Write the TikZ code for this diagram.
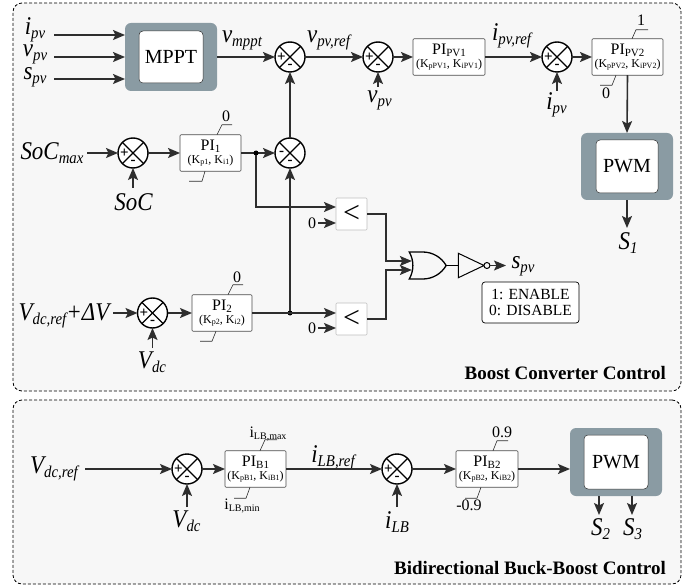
\documentclass[tikz,border=0pt]{standalone}
\usepackage{fontspec}
\setmainfont{Liberation Serif}
\newfontfamily\sigfont[FakeStretch=0.9]{Liberation Serif}
\usetikzlibrary{arrows.meta,shapes.gates.logic.US}

\definecolor{panelfill}{HTML}{F7F7F7}
\definecolor{blockgray}{HTML}{8A9BA3}
\definecolor{wire}{HTML}{2E2E2E}

\newcommand{\fsz}[1]{\fontsize{#1}{#1}\selectfont}
\newcommand{\siglbl}[2]{{\sigfont\itshape\fsz{25.5}#1\raisebox{-4pt}{\fsz{16.5}#2}}}
\newcommand{\pititle}[2]{{\fsz{16}PI\raisebox{-2pt}{\fsz{11}#1}}\\[1pt]#2}
\newcommand{\gains}[2]{\fsz{12}(K\raisebox{-1.5pt}{\fsz{8}#1}, K\raisebox{-1.5pt}{\fsz{8}#2})}
\newcommand{\limtxt}[2]{\fsz{16}#1\raisebox{-2pt}{\fsz{10}#2}}

\tikzset{
	panel/.style = {draw = black, dashed, dash pattern = on 3pt off 2pt, fill = panelfill,
					rounded corners = 9pt, line width = 0.8pt, inner sep = 0pt, outer sep = 0pt},
	paneltitle/.style = {anchor = east, inner sep = 0pt, font = \bfseries\fsz{19}},
	outerblock/.style = {fill = blockgray, rounded corners = 6pt, inner sep = 0pt, outer sep = 0pt},
	innerblock/.style = {draw = wire, fill = white, rounded corners = 4pt, line width = 0.5pt,
						 inner sep = 0pt, outer sep = 0pt, font = \fsz{20}},
	piblock/.style = {draw = black!70, fill = white, rounded corners = 1pt, line width = 0.6pt,
					  inner sep = 0pt, outer sep = 0pt, align = center, minimum height = 36.5pt},
	ltblock/.style = {draw = black!25, fill = white, rounded corners = 1pt, line width = 0.6pt,
					  inner sep = 0pt, outer sep = 0pt, minimum width = 31pt, minimum height = 32pt,
					  font = \fsz{30}},
	sumjunction/.style = {draw = black, shape = circle, line width = 1.4pt, fill = white,
						  minimum size = 30pt, inner sep = 0pt, outer sep = 0pt,
						  path picture = {
							\draw[line width = 1.2pt] (path picture bounding box.north west) -- (path picture bounding box.south east);
							\draw[line width = 1.2pt] (path picture bounding box.north east) -- (path picture bounding box.south west);
							\node[font = \bfseries\fsz{15}, inner sep = 0pt] at ([xshift = -8.5pt]path picture bounding box.center) {#1};
							\node[font = \bfseries\fsz{15}, inner sep = 0pt] at ([yshift = -9pt]path picture bounding box.center) {-};
						  }},
	junction/.style = {fill = black, shape = circle, minimum size = 5pt, inner sep = 0pt, outer sep = 0pt},
	limtext/.style = {inner sep = 0pt},
	limline/.style = {line width = 0.6pt, draw = wire},
	sig/.style = {inner sep = 0pt, anchor = base},
	conn/.style = {draw = wire, line width = 1.6pt}
}

\begin{document}
\begin{tikzpicture}[x = 1pt, y = -1pt, >={Stealth[length = 12pt, width = 10pt, inset = 2.5pt]}]

	\useasboundingbox (0,0) rectangle (692,585);

	\draw (347,197) node[panel, minimum width = 668pt, minimum height = 388pt] (BoostPanel) {};
	\draw (347,492) node[panel, minimum width = 668pt, minimum height = 184pt] (BuckPanel) {};
	\draw (666,373) node[paneltitle] (BoostTitle) {Boost Converter Control};
	\draw (666,568) node[paneltitle] (BuckTitle) {Bidirectional Buck-Boost Control};

	\draw (171,57) node[outerblock, minimum width = 92pt, minimum height = 68pt] (MPPTout) {};
	\draw (171,57) node[innerblock, minimum width = 64pt, minimum height = 52pt] (MPPT) {MPPT};
	\draw (627,166.5) node[outerblock, minimum width = 92pt, minimum height = 67pt] (PWMaout) {};
	\draw (627,166.5) node[innerblock, minimum width = 62pt, minimum height = 53pt] (PWMa) {PWM};
	\draw (616,462) node[outerblock, minimum width = 92pt, minimum height = 68pt] (PWMbout) {};
	\draw (616,462) node[innerblock, minimum width = 64pt, minimum height = 54pt] (PWMb) {PWM};

	\draw (290,57) node[sumjunction = +] (SumMppt) {};
	\draw (378,57) node[sumjunction = +] (SumVpv) {};
	\draw (557,57) node[sumjunction = +] (SumIpv) {};
	\draw (133,153) node[sumjunction = +] (SumSoc) {};
	\draw (290,153) node[sumjunction = -] (SumLim) {};
	\draw (152.5,313) node[sumjunction = +] (SumVdc) {};
	\draw (187,469) node[sumjunction = +] (SumVdcB) {};
	\draw (397,469) node[sumjunction = +] (SumIlb) {};

	\draw (449,57) node[piblock, minimum width = 72pt] (PIpvA) {\pititle{PV1}{\gains{pPV1}{iPV1}}};
	\draw (627.5,57) node[piblock, minimum width = 71pt] (PIpvB) {\pititle{PV2}{\gains{pPV2}{iPV2}}};
	\draw (210.5,153) node[piblock, minimum width = 61pt] (PIone) {\pititle{1}{\gains{p1}{i1}}};
	\draw (222,313) node[piblock, minimum width = 60pt] (PItwo) {\pititle{2}{\gains{p2}{i2}}};
	\draw (255.5,469) node[piblock, minimum width = 61pt] (PIbA) {\pititle{B1}{\gains{pB1}{iB1}}};
	\draw (487,469) node[piblock, minimum width = 62pt] (PIbB) {\pititle{B2}{\gains{pB2}{iB2}}};

	\draw (351.5,214) node[ltblock] (LTa) {<};
	\draw (351.5,319) node[ltblock] (LTb) {<};
	\draw (425,265.5) node[or gate US, draw = black, logic gate inputs = nn, line width = 1.3pt,
					 minimum width = 26pt, minimum height = 27pt, inner sep = 0pt] (OR) {};
	\draw (467,265.5) node[not gate US, draw = black, line width = 1pt, logic gate inverted radius = 3pt,
					 minimum width = 22pt, minimum height = 21pt, inner sep = 0pt] (NOT) {};
	\draw (530.5,302.5) node[draw = black, rounded corners = 3pt, line width = 0.7pt, fill = white,
					 minimum width = 97pt, minimum height = 41pt, inner sep = 0pt, align = center,
					 font = \fsz{15.5}] (Flags) {1: ENABLE\\0: DISABLE};

	\draw (35,35) node[sig] (Lipv) {\siglbl{i}{pv}};
	\draw (35,57) node[sig] (Lvpv) {\siglbl{v}{pv}};
	\draw (35,80) node[sig] (Lspv) {\siglbl{s}{pv}};
	\draw (54,35) coordinate (Ipv);
	\draw (54,57) coordinate (Vpv);
	\draw (54,79) coordinate (Spv);
	\draw (242,43) node[sig] (Lmppt) {\siglbl{v}{mppt}};
	\draw (328.5,43) node[sig] (Lvref) {\siglbl{v}{pv,ref}};
	\draw (511.5,41) node[sig] (Liref) {\siglbl{i}{pv,ref}};
	\draw (379.5,103) node[sig] (LvpvB) {\siglbl{v}{pv}};
	\draw (556.5,110) node[sig] (LipvB) {\siglbl{i}{pv}};
	\draw (52,160) node[sig] (Lsocm) {\siglbl{SoC}{max}};
	\draw (133.5,211) node[sig] (Lsoc) {\siglbl{SoC}{}};
	\draw (64,320) node[sig] (Lvdcr) {\siglbl{V}{dc,ref}{\sigfont\itshape\fsz{25.5}+ΔV}};
	\draw (152,368) node[sig] (Lvdc) {\siglbl{V}{dc}};
	\draw (628,249) node[sig] (Lsa) {\siglbl{S}{1}};
	\draw (523,268) node[sig] (Lspvo) {\siglbl{s}{pv}};
	\draw (54,473) node[sig] (Lvdcb) {\siglbl{V}{dc,ref}};
	\draw (186.5,527) node[sig] (LvdcB) {\siglbl{V}{dc}};
	\draw (333,462) node[sig] (Lilbr) {\siglbl{i}{LB,ref}};
	\draw (397,528) node[sig] (Lilb) {\siglbl{i}{LB}};
	\draw (600.5,535) node[sig] (Lsb) {\siglbl{S}{2}};
	\draw (632.5,535) node[sig] (Lsc) {\siglbl{S}{3}};

	\draw (312,223) node[limtext, font = \fsz{16}] (ZeroA) {0};
	\draw (312,328) node[limtext, font = \fsz{16}] (ZeroB) {0};
	\draw (226,117) node[limtext] (LimA) {\limtxt{0}{}};
	\draw (237,278) node[limtext] (LimB) {\limtxt{0}{}};
	\draw (641,21) node[limtext] (LimC) {\limtxt{1}{}};
	\draw (606,94) node[limtext] (LimD) {\limtxt{0}{}};
	\draw (268,434) node[limtext] (LimE) {\limtxt{i}{LB,max}};
	\draw (242,506) node[limtext] (LimF) {\limtxt{i}{LB,min}};
	\draw (502,433) node[limtext] (LimG) {\limtxt{0.9}{}};
	\draw (469,506) node[limtext] (LimH) {\limtxt{-0.9}{}};

	\draw[limline] ([xshift = 6.5pt]PIone.north) -- ++(5,-10) -- ++(10,0);
	\draw[limline] ([xshift = -5.5pt]PIone.south) -- ++(-3,10) -- ++(-13,0);
	\draw[limline] ([xshift = 6pt]PItwo.north) -- ++(5,-10) -- ++(10,0);
	\draw[limline] ([xshift = -6pt]PItwo.south) -- ++(-4,10) -- ++(-12,0);
	\draw[limline] ([xshift = 4.5pt]PIpvB.north) -- ++(4,-9) -- ++(12,0);
	\draw[limline] ([xshift = -11.5pt]PIpvB.south) -- ++(-4,10) -- ++(-12,0);
	\draw[limline] ([xshift = 4.5pt]PIbA.north) -- ++(5,-11) -- ++(12,0);
	\draw[limline] ([xshift = -5.5pt]PIbA.south) -- ++(-4,11) -- ++(-12,0);
	\draw[limline] ([xshift = 6pt]PIbB.north) -- ++(4,-10) -- ++(11,0);
	\draw[limline] ([xshift = -6pt]PIbB.south) -- ++(-4,11) -- ++(-12,0);

	\draw[conn, ->] (Ipv) -- (Ipv -| MPPTout.west);
	\draw[conn, ->] (Vpv) -- (Vpv -| MPPTout.west);
	\draw[conn, ->] (Spv) -- (Spv -| MPPTout.west);
	\draw[conn, ->] (MPPTout.east) -- (SumMppt.west);
	\draw[conn, ->] (SumMppt.east) -- (SumVpv.west);
	\draw[conn, ->] (SumVpv.east) -- (PIpvA.west);
	\draw[conn, ->] (PIpvA.east) -- (SumIpv.west);
	\draw[conn, ->] (SumIpv.east) -- (PIpvB.west);
	\draw[conn, ->] (PIpvB.south) -- (PWMaout.north);

	\draw (378,87) coordinate (VpvB);
	\draw (557,91) coordinate (IpvB);
	\draw[conn, ->] (VpvB) -- (SumVpv.south);
	\draw[conn, ->] (IpvB) -- (SumIpv.south);

	\draw (87,153) coordinate (SocMax);
	\draw (133,188) coordinate (Soc);
	\draw[conn, ->] (SocMax) -- (SumSoc.west);
	\draw[conn, ->] (Soc) -- (SumSoc.south);
	\draw[conn, ->] (SumSoc.east) -- (PIone.west);
	\draw[conn, ->] (PIone.east) -- (SumLim.west);
	\draw[conn, ->] (SumLim.north) -- (SumMppt.south);

	\draw (256,153) node[junction] (JuncA) {};
	\draw (290,313) node[junction] (JuncB) {};
	\draw[conn, ->] (JuncA) |- ([yshift = 7pt]LTa.west);
	\draw[conn, ->] (JuncB) -- (SumLim.south);
	\draw[conn, ->] (ZeroA.east) ++(2,0) -- (ZeroA.east -| LTa.west);
	\draw[conn, ->] (ZeroB.east) ++(2,0) -- (ZeroB.east -| LTb.west);

	\draw (113,313) coordinate (VdcRef);
	\draw (152.5,348) coordinate (Vdc);
	\draw[conn, ->] (VdcRef) -- (SumVdc.west);
	\draw[conn, ->] (Vdc) -- (SumVdc.south);
	\draw[conn, ->] (SumVdc.east) -- (PItwo.west);
	\draw[conn, ->] (PItwo.east) -- (PItwo.east -| LTb.west);

	\draw[conn, ->] (LTa.east) -| ([xshift = -26pt]OR.input 1) -- (OR.input 1);
	\draw[conn, ->] (LTb.east) -| ([xshift = -26pt]OR.input 2) -- (OR.input 2);
	\draw[line width = 1.2pt] (OR.output) -- (NOT.input);
	\draw (506,265.5) coordinate (SpvOut);
	\draw[conn, line width = 1.2pt, ->] (NOT.output) -- (SpvOut);

	\draw[conn, ->] (PWMaout.south) -- ++(0,28) coordinate (SoneEnd);

	\draw (85,469) coordinate (VdcRefB);
	\draw (187,507) coordinate (VdcB);
	\draw (397,507) coordinate (Ilb);
	\draw[conn, ->] (VdcRefB) -- (SumVdcB.west);
	\draw[conn, ->] (VdcB) -- (SumVdcB.south);
	\draw[conn, ->] (SumVdcB.east) -- (PIbA.west);
	\draw[conn, ->] (PIbA.east) -- (SumIlb.west);
	\draw[conn, ->] (Ilb) -- (SumIlb.south);
	\draw[conn, ->] (SumIlb.east) -- (PIbB.west);
	\draw[conn, ->] (PIbB.east) -- (PIbB.east -| PWMbout.west);

	\draw (599,496) coordinate (StwoTop);
	\draw (632,496) coordinate (SthreeTop);
	\draw[conn, ->] (StwoTop) -- ++(0,19) coordinate (StwoEnd);
	\draw[conn, ->] (SthreeTop) -- ++(0,19) coordinate (SthreeEnd);
\end{tikzpicture}
\end{document}
